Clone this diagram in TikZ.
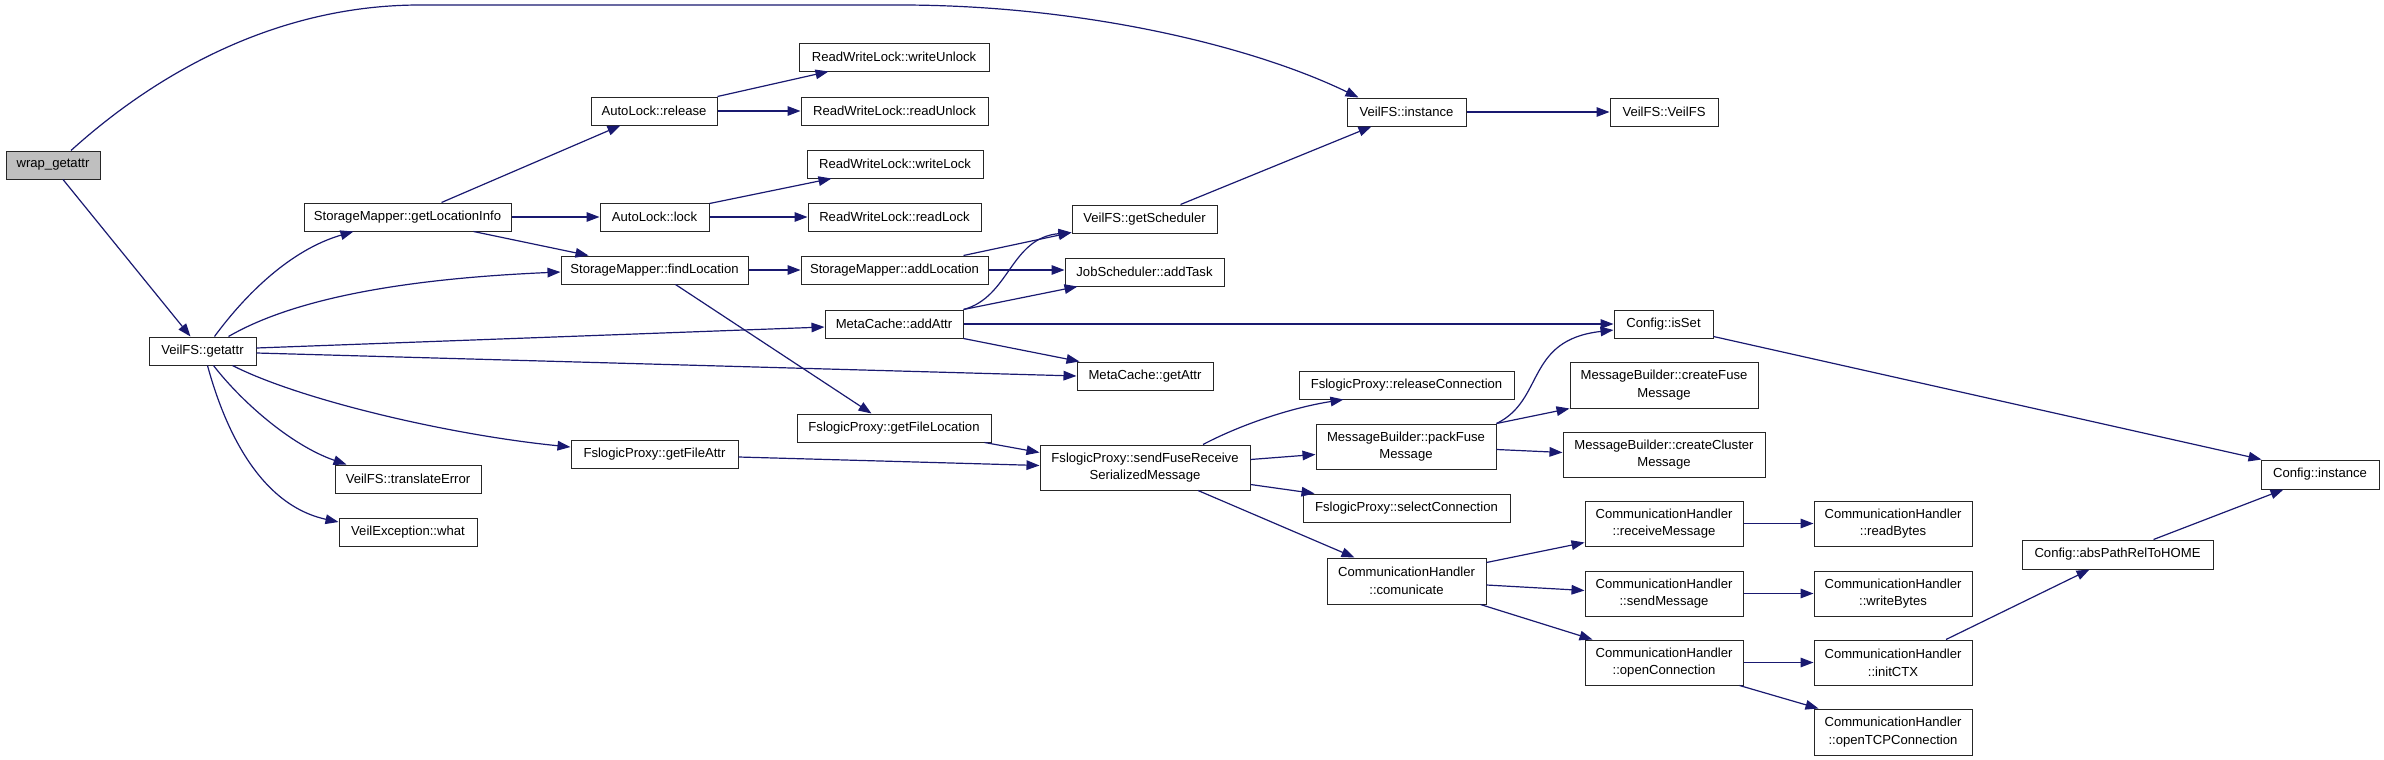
\documentclass[tikz,border=0pt]{standalone}
\usepackage{fontspec}
\setmainfont{Liberation Sans}
\usetikzlibrary{arrows.meta,calc}
\definecolor{edgeblue}{RGB}{25,25,112}
\definecolor{wrapgray}{RGB}{191,191,191}
\tikzset{
  box/.style={draw=black!85, line width=0.5pt, fill=white, inner sep=0pt, align=center,
    font=\fontsize{6.55}{8.85}\selectfont, minimum height=14pt},
  box2/.style={box, minimum height=22.5pt},
  edge/.style={draw=edgeblue, line width=0.6pt, -{Triangle[length=6.5pt,width=4.8pt]}}
}
\begin{document}
\begin{tikzpicture}[x=0.5pt,y=-0.5pt]
\useasboundingbox (0,0) rectangle (2384,760);
% column 1-3
\node[box, fill=wrapgray, minimum width=47pt] (wrap) at (53,165) {wrap\_getattr};
\node[box, minimum width=53.5pt] (getattr) at (202.5,351) {VeilFS::getattr};
\node[box, minimum width=103.5pt] (gli) at (407.5,217) {StorageMapper::getLocationInfo};
\node[box, minimum width=73pt] (te) at (408,479) {VeilFS::translateError};
\node[box, minimum width=69pt] (what) at (408,532) {VeilException::what};
% column 4
\node[box, minimum width=63pt] (release) at (654,111) {AutoLock::release};
\node[box, minimum width=54.5pt] (lock) at (654.5,217) {AutoLock::lock};
\node[box, minimum width=93.5pt] (fl) at (654.5,270) {StorageMapper::findLocation};
\node[box, minimum width=83.5pt] (gfa) at (654.5,454) {FslogicProxy::getFileAttr};
% column 5
\node[box, minimum width=95pt] (wu) at (894,57) {ReadWriteLock::writeUnlock};
\node[box, minimum width=93.5pt] (ru) at (894.5,111) {ReadWriteLock::readUnlock};
\node[box, minimum width=88pt] (wl) at (895,164) {ReadWriteLock::writeLock};
\node[box, minimum width=86.5pt] (rl) at (894.5,217) {ReadWriteLock::readLock};
\node[box, minimum width=93.5pt] (al) at (894.5,270) {StorageMapper::addLocation};
\node[box, minimum width=69pt] (aa) at (894,324) {MetaCache::addAttr};
\node[box, minimum width=97pt] (gfl) at (894,428) {FslogicProxy::getFileLocation};
% column 6
\node[box, minimum width=72.5pt] (gs) at (1144.5,219) {VeilFS::getScheduler};
\node[box, minimum width=79.5pt] (at) at (1144.5,272) {JobScheduler::addTask};
\node[box, minimum width=68pt] (ga) at (1145,376) {MetaCache::getAttr};
\node[box2, minimum width=105pt] (sf) at (1145,467.5) {FslogicProxy::sendFuseReceive\\SerializedMessage};
% column 7
\node[box, minimum width=59.5pt] (inst) at (1406.5,112) {VeilFS::instance};
\node[box, minimum width=107.5pt] (rc) at (1406.5,385) {FslogicProxy::releaseConnection};
\node[box2, minimum width=90pt] (pf) at (1406,446.5) {MessageBuilder::packFuse\\Message};
\node[box, minimum width=103.5pt] (sc) at (1406.5,508) {FslogicProxy::selectConnection};
\node[box2, minimum width=79.5pt, minimum height=23pt] (com) at (1406.5,581) {CommunicationHandler\\::comunicate};
% column 8
\node[box, minimum width=54pt] (vv) at (1664,112) {VeilFS::VeilFS};
\node[box, minimum width=49.5pt] (isset) at (1663.5,324) {Config::isSet};
\node[box2, minimum width=94pt, minimum height=23pt] (cf) at (1664,385) {MessageBuilder::createFuse\\Message};
\node[box2, minimum width=101pt] (cc) at (1664,454.5) {MessageBuilder::createCluster\\Message};
\node[box2, minimum width=79pt] (rm) at (1664,523.5) {CommunicationHandler\\::receiveMessage};
\node[box2, minimum width=79pt] (sm) at (1664,593.5) {CommunicationHandler\\::sendMessage};
\node[box2, minimum width=79pt] (oc) at (1664,662.5) {CommunicationHandler\\::openConnection};
% column 9
\node[box2, minimum width=79pt] (rb) at (1893,523.5) {CommunicationHandler\\::readBytes};
\node[box2, minimum width=79pt] (wb) at (1893,593.5) {CommunicationHandler\\::writeBytes};
\node[box2, minimum width=79pt] (ic) at (1893,662.5) {CommunicationHandler\\::initCTX};
\node[box2, minimum width=79pt, minimum height=23pt] (tcp) at (1893,732) {CommunicationHandler\\::openTCPConnection};
% column 10-11
\node[box, minimum width=95.5pt, minimum height=14.5pt] (ap) at (2117.5,554.5) {Config::absPathRelToHOME};
\node[box, minimum width=59pt, minimum height=14.5pt] (ci) at (2320,474.5) {Config::instance};

% waypoints of the long top edge
\coordinate (top1) at (420,5);
\coordinate (top2) at (900,5);

% edges
\draw[edge] ($(wrap.north)+(18,0)$) .. controls (160,70) and (280,5) .. (top1) -- (top2)
   .. controls (1080,5) and (1250,45) .. ($(inst.north west)+(12,0)$);
\draw[edge] ($(wrap.south)+(10,0)$) -- ($(getattr.north)+(-12,0)$);
\draw[edge] ($(getattr.north)+(12,0)$) .. controls (245,295) and (290,250) .. ($(gli.south west)+(50,0)$);
\draw[edge] ($(getattr.north)+(26,0)$) .. controls (300,295) and (420,278) .. ($(fl.west)+(0,2)$);
\draw[edge] ($(getattr.east)+(0,-3)$) -- ($(aa.west)+(0,3)$);
\draw[edge] ($(getattr.east)+(0,2)$) -- (ga.west);
\draw[edge] ($(getattr.south)+(30,0)$) .. controls (300,400) and (450,435) .. ($(gfa.west)+(0,-7)$);
\draw[edge] ($(getattr.south)+(11,0)$) .. controls (240,400) and (290,445) .. ($(te.north west)+(12,0)$);
\draw[edge] ($(getattr.south)+(5,0)$) .. controls (225,430) and (260,505) .. ($(what.west)+(0,-10)$);

\draw[edge] ($(gli.north)+(34,0)$) -- ($(release.south west)+(30,0)$);
\draw[edge] (gli.east) -- (lock.west);
\draw[edge] ($(gli.south east)+(-38,0)$) -- ($(fl.north west)+(28,0)$);

\draw[edge] (release.north east) -- ($(wu.south west)+(30,0)$);
\draw[edge] (release.east) -- (ru.west);
\draw[edge] ($(lock.north east)+(0,1)$) -- ($(wl.south west)+(25,0)$);
\draw[edge] (lock.east) -- (rl.west);
\draw[edge] (fl.east) -- (al.west);
\draw[edge] ($(fl.south)+(21,0)$) -- ($(gfl.north west)+(75,0)$);

\draw[edge] ($(al.north east)+(-25,0)$) -- ($(gs.south west)+(0,-1)$);
\draw[edge] (al.east) -- ($(at.west)+(0,-2)$);
\draw[edge] (aa.north east) .. controls (1010,297) and (1010,238) .. ($(gs.south west)+(0,-1)$);
\draw[edge] (aa.north east) -- ($(at.south west)+(13,0)$);
\draw[edge] (aa.east) -- (isset.west);
\draw[edge] (aa.south east) -- ($(ga.north west)+(3,0)$);
\draw[edge] ($(gfl.south east)+(-7,0)$) -- ($(sf.west)+(0,-15)$);

\draw[edge] ($(gs.north)+(36,0)$) -- ($(inst.south west)+(25,0)$);
\draw[edge] (inst.east) -- (vv.west);
\draw[edge] ($(gfa.east)+(0,3)$) -- ($(sf.west)+(0,-2)$);

\draw[edge] ($(sf.north)+(58,0)$) .. controls (1240,425) and (1290,408) .. ($(rc.south west)+(45,0)$);
\draw[edge] ($(sf.east)+(0,-8)$) -- ($(pf.west)+(0,8)$);
\draw[edge] ($(sf.east)+(0,17)$) -- ($(sc.north west)+(12,0)$);
\draw[edge] ($(sf.south)+(53,0)$) -- ($(com.north west)+(28,0)$);

\draw[edge] (pf.north east) .. controls (1545,400) and (1525,340) .. ($(isset.west)+(0,6)$);
\draw[edge] (pf.north east) -- (cf.south west);
\draw[edge] ($(pf.east)+(0,3)$) -- ($(cc.west)+(0,-2)$);
\draw[edge] ($(isset.south east)+(0,-2)$) -- ($(ci.north west)+(1,0)$);

\draw[edge] ($(com.north east)+(0,5)$) -- ($(rm.south west)+(0,-4)$);
\draw[edge] ($(com.east)+(0,4)$) -- ($(sm.west)+(0,-3)$);
\draw[edge] ($(com.south east)+(-6,0)$) -- ($(oc.north west)+(8,0)$);
\draw[edge] (rm.east) -- (rb.west);
\draw[edge] (sm.east) -- (wb.west);
\draw[edge] (oc.east) -- (ic.west);
\draw[edge] ($(oc.south east)+(-4,0)$) -- ($(tcp.north west)+(5,0)$);
\draw[edge] ($(ic.north)+(53,0)$) -- ($(ap.south west)+(68,0)$);
\draw[edge] ($(ap.north)+(36,0)$) -- ($(ci.south west)+(23,0)$);
\end{tikzpicture}
\end{document}
